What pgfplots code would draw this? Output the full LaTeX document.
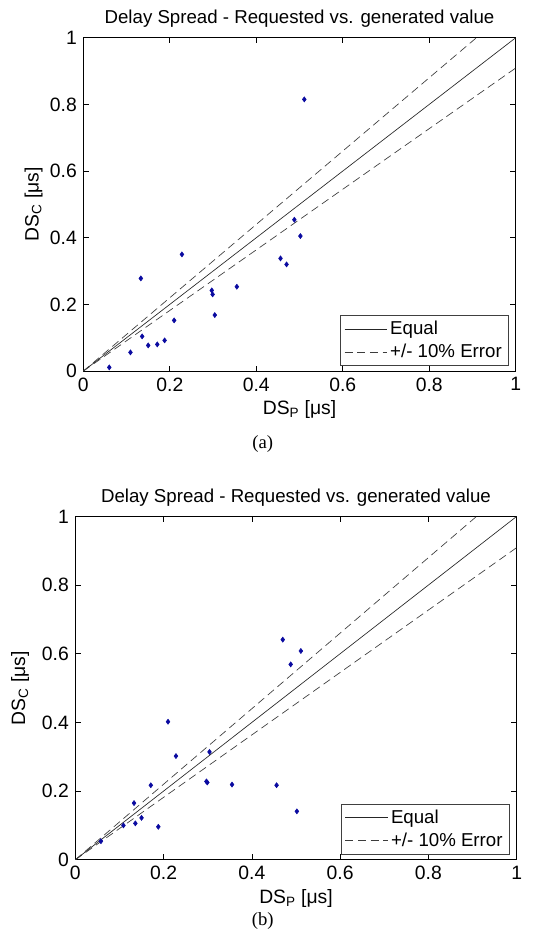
\documentclass[border=0pt]{standalone}
\usepackage{fontspec}
\setmainfont{Liberation Sans}
\newfontfamily\capfont{Liberation Serif}
\usepackage{pgfplots}
\pgfplotsset{compat=1.18}
\definecolor{ptblue}{RGB}{10,10,160}
\definecolor{lgray}{RGB}{60,60,60}
\pgfplotsset{
 myaxis/.style={
  scale only axis, anchor=south west,
  xmin=0,xmax=1,ymin=0,ymax=1,
  xtick={0,0.2,0.4,0.6,0.8,1}, ytick={0,0.2,0.4,0.6,0.8,1},
  xticklabels={0,0.2,0.4,0.6,0.8,1}, yticklabels={0,0.2,0.4,0.6,0.8,1},
  tick align=inside, major tick length=4pt,
  tick style={black, line width=0.5pt},
  axis line style={black, line width=0.6pt},
  tick label style={font=\fontsize{14.5}{16}\selectfont},
  label style={font=\fontsize{14.5}{16}\selectfont},
  title style={font=\fontsize{14}{16}\selectfont, yshift=-3pt},
  title={Delay Spread - Requested vs. generated value},
  xlabel={DS\textsubscript{P} [μs]}, ylabel={DS\textsubscript{C} [μs]},
  xlabel style={at={(axis description cs:0.5,0)}, anchor=center, yshift=-29pt},
  legend style={at={(0.984,0.015)}, anchor=south east, draw=black!75,
     font=\fontsize{14}{16}\selectfont, inner xsep=3pt, inner ysep=2pt,
     row sep=1pt, line width=0.6pt},
  legend cell align=left,
  legend image code/.code={\draw[##1] (0pt,0pt) -- (32pt,0pt);},
 }
}
\begin{document}
\fontsize{14}{16}\selectfont
\begin{tikzpicture}
\useasboundingbox (0,0) rectangle (400pt,-708pt);
\begin{axis}[myaxis, at={(62.5pt,-278.3pt)}, width=324.3pt, height=250pt,
  ylabel style={at={(axis description cs:-0.115,0.5)}, anchor=center}]
\addplot[black!85, line width=0.5pt] coordinates {(0,0) (1,1)};
\addlegendentry{Equal}
\addplot[lgray, line width=0.5pt, dash pattern=on 6pt off 3.5pt] coordinates {(0,0) (0.9091,1)};
\addlegendentry{+/- 10\% Error}
\addplot[lgray, line width=0.5pt, dash pattern=on 6pt off 3.5pt, forget plot] coordinates {(0,0) (1,0.9091)};
\addplot[only marks, mark=diamond*, mark size=1.9pt, ptblue, forget plot] coordinates {
(0.060,0.011) (0.109,0.056) (0.133,0.278) (0.136,0.104) (0.150,0.077)
(0.171,0.080) (0.188,0.092) (0.210,0.152) (0.228,0.350) (0.297,0.242)
(0.299,0.230) (0.304,0.168) (0.355,0.253) (0.456,0.338) (0.470,0.320)
(0.488,0.454) (0.502,0.405) (0.511,0.815)};
\end{axis}
\begin{axis}[myaxis, at={(56.5pt,-644.8pt)}, width=331pt, height=257.5pt,
  ylabel style={at={(axis description cs:-0.125,0.5)}, anchor=center}]
\addplot[black!85, line width=0.5pt] coordinates {(0,0) (1,1)};
\addlegendentry{Equal}
\addplot[lgray, line width=0.5pt, dash pattern=on 6pt off 3.5pt] coordinates {(0,0) (0.9091,1)};
\addlegendentry{+/- 10\% Error}
\addplot[lgray, line width=0.5pt, dash pattern=on 6pt off 3.5pt, forget plot] coordinates {(0,0) (1,0.9091)};
\addplot[only marks, mark=diamond*, mark size=1.9pt, ptblue, forget plot] coordinates {
(0.058,0.054) (0.109,0.100) (0.133,0.165) (0.136,0.106) (0.150,0.122)
(0.171,0.217) (0.188,0.096) (0.210,0.402) (0.228,0.302) (0.297,0.228)
(0.299,0.225) (0.304,0.314) (0.355,0.219) (0.456,0.217) (0.470,0.641)
(0.488,0.569) (0.502,0.141) (0.511,0.608)};
\end{axis}
\node[font=\capfont\fontsize{14}{16}\selectfont] at (197pt,-333pt) {(a)};
\node[font=\capfont\fontsize{14}{16}\selectfont] at (197pt,-691pt) {(b)};
\end{tikzpicture}
\end{document}
